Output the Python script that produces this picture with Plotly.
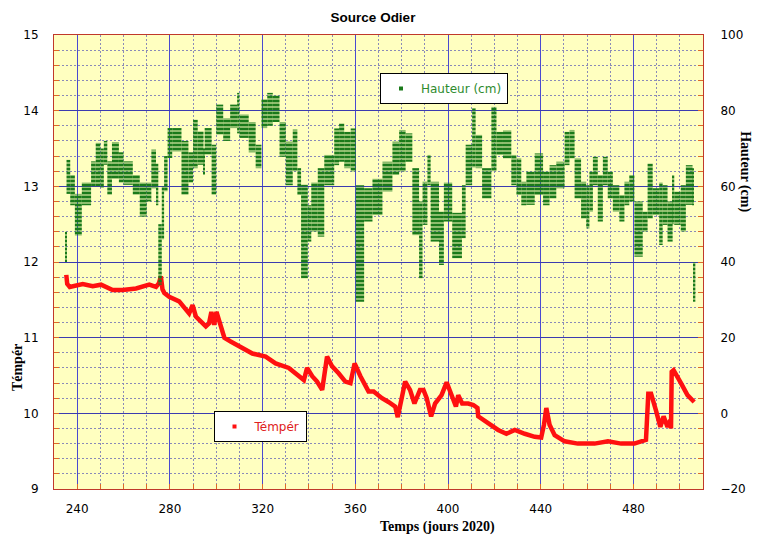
import plotly.graph_objects as go

# ---------------- data ----------------
# Température (°C) : jour 2020 -> valeur
temp_jour = [235.3, 235.7, 236.8, 239.0, 242.4, 246.7, 250.3, 255.3, 259.6, 265.4, 271.1, 274.0,
             275.3, 276.1, 276.8, 277.6, 279.7, 284.0, 288.3, 289.8, 291.2, 295.5, 296.9, 297.9,
             299.1, 300.1, 302.0, 303.2, 303.5, 306.2, 311.3, 315.6, 321.3, 325.6, 331.3, 337.8,
             339.2, 341.4, 343.5, 345.7, 347.8, 350.0, 352.8, 355.7, 357.9, 359.7, 362.2, 365.7,
             367.9, 371.5, 374.3, 377.2, 378.3, 379.3, 381.5, 383.6, 385.5, 387.9, 389.4, 390.8,
             392.7, 394.4, 397.2, 399.4, 401.5, 403.4, 404.4, 406.1, 408.7, 410.9, 412.7, 413.0,
             417.3, 421.6, 425.2, 428.8, 433.1, 437.4, 440.2, 441.4, 442.4, 443.8, 446.0, 450.3,
             456.0, 463.2, 469.0, 474.7, 480.4, 485.4, 486.4, 487.6, 489.7, 491.6, 493.0, 494.7,
             495.9, 496.2, 496.5, 497.3, 500.5, 503.3, 506.2]
temp_val = [11.83, 11.71, 11.67, 11.68, 11.71, 11.68, 11.70, 11.63, 11.63, 11.65, 11.70, 11.67,
            11.72, 11.81, 11.64, 11.59, 11.54, 11.48, 11.32, 11.43, 11.28, 11.15, 11.19, 11.34,
            11.17, 11.34, 11.15, 11.08, 11.00, 10.95, 10.86, 10.79, 10.75, 10.66, 10.60, 10.44,
            10.60, 10.49, 10.42, 10.31, 10.75, 10.62, 10.53, 10.42, 10.40, 10.66, 10.49, 10.29,
            10.29, 10.20, 10.15, 10.09, 9.95, 10.11, 10.42, 10.31, 10.13, 10.31, 10.31, 10.20,
            9.96, 10.13, 10.24, 10.41, 10.26, 10.09, 10.24, 10.13, 10.13, 10.11, 10.07, 9.96,
            9.87, 9.78, 9.73, 9.78, 9.73, 9.69, 9.68, 9.85, 10.07, 9.85, 9.71, 9.63,
            9.60, 9.60, 9.63, 9.60, 9.60, 9.65, 10.26, 10.26, 10.04, 9.82, 9.96, 9.82,
            9.91, 9.80, 10.55, 10.57, 10.40, 10.24, 10.15]

# Hauteur (cm) : intervalles de jours avec valeurs min / max relevées
haut_debut = [234.8, 235.4, 237.0, 239.0, 242.0, 246.0, 248.0, 250.0, 251.5, 253.0, 255.0, 258.0,
              260.0, 264.0, 267.0, 270.0, 272.0, 274.0, 275.0, 276.5, 277.5, 279.0, 281.0, 285.0,
              288.0, 290.0, 292.0, 294.5, 295.0, 298.0, 300.0, 303.0, 306.0, 309.0, 310.0, 314.0,
              317.0, 319.5, 322.0, 324.4, 327.3, 330.0, 333.0, 335.0, 336.6, 339.5, 341.0, 343.8,
              346.6, 350.9, 353.0, 355.2, 358.0, 360.2, 363.8, 367.4, 371.7, 376.0, 378.9, 381.7,
              384.6, 387.5, 389.0, 391.1, 392.5, 396.1, 398.2, 401.8, 406.0, 407.6, 410.4, 411.9,
              414.7, 418.7, 420.9, 423.7, 427.3, 429.5, 431.6, 433.8, 437.4, 441.0, 443.8, 446.7,
              450.3, 452.4, 454.6, 457.4, 459.6, 461.0, 462.5, 464.6, 466.8, 468.9, 471.1, 473.9,
              476.1, 478.2, 480.4, 484.0, 486.1, 488.3, 491.1, 492.6, 494.7, 496.9, 497.6, 500.4,
              502.6, 505.5, 506.0]
haut_fin = [235.4, 237.0, 239.0, 242.0, 246.0, 248.0, 250.0, 251.5, 253.0, 255.0, 258.0, 260.0,
            264.0, 267.0, 270.0, 272.0, 274.0, 275.0, 276.5, 277.5, 279.0, 281.0, 285.0, 288.0,
            290.0, 292.0, 294.5, 295.0, 298.0, 300.0, 303.0, 306.0, 309.0, 310.0, 314.0, 317.0,
            319.5, 322.0, 324.4, 327.3, 330.0, 333.0, 335.0, 336.6, 339.5, 341.0, 343.8, 346.6,
            350.9, 353.0, 355.2, 358.0, 360.2, 363.8, 367.4, 371.7, 376.0, 378.9, 381.7, 384.6,
            387.5, 389.0, 391.1, 392.5, 396.1, 398.2, 401.8, 406.0, 407.6, 410.4, 411.9, 414.7,
            418.7, 420.9, 423.7, 427.3, 429.5, 431.6, 433.8, 437.4, 441.0, 443.8, 446.7, 450.3,
            452.4, 454.6, 457.4, 459.6, 461.0, 462.5, 464.6, 466.8, 468.9, 471.1, 473.9, 476.1,
            478.2, 480.4, 484.0, 486.1, 488.3, 491.1, 492.6, 494.7, 496.9, 497.6, 500.4, 502.6,
            505.5, 506.0, 506.7]
haut_min = [40, 58, 55, 47, 55, 60, 60, 59.6, 65.7, 57.8, 62, 61,
            60.4, 57.8, 52, 56, 59.5, 55, 34, 46, 58.7, 67.5, 69.2, 57.8,
            61, 64.8, 65.7, 63, 68.4, 57.8, 73.7, 72, 75.4, 74, 72.8, 69,
            64.8, 75.4, 76, 77, 67.8, 60.3, 64, 57.7, 35.7, 45.4, 48, 46.7,
            60.3, 65.6, 66.5, 64.8, 63.9, 29.5, 50.7, 52.4, 58.6, 63, 63.9, 66.5,
            47.1, 35.7, 49.8, 60.3, 45.4, 39.2, 50.7, 41, 46.3, 60.3, 65, 64.8,
            56.8, 64, 68.3, 67.4, 60.3, 57.7, 55, 55.1, 57.7, 55, 56.8, 59.5,
            65.6, 67.4, 56.8, 51.5, 48.9, 53.3, 60.3, 50.7, 60.3, 56.8, 53.3, 50.7,
            55, 56, 41.4, 48, 51.5, 52.4, 44.5, 49.8, 45.4, 50, 49.8, 48,
            55.1, 55, 29.5]
haut_max = [48, 67, 63, 58, 61, 66.6, 71.5, 70, 72, 66.6, 71.7, 69,
            66.6, 63, 61, 61, 69.7, 66, 50, 60, 68, 75.4, 75.4, 72,
            69, 77.6, 74.5, 70, 75.4, 71, 81.6, 78, 81.6, 84.7, 79, 77,
            71, 83, 84.7, 84, 77, 71.8, 75, 64.8, 60.4, 55, 61, 64.8,
            68.3, 75.3, 76.6, 74.4, 75.3, 60.3, 59.5, 62, 66.5, 71.8, 74.9, 74,
            64.8, 56, 61.2, 68.3, 61.2, 53.3, 61, 53, 60.3, 71, 80.6, 73.6,
            64.8, 81, 74.4, 74.8, 68.3, 67.4, 61.2, 63.9, 68.7, 63.9, 65.6, 66.5,
            74.4, 74.9, 67.4, 61.2, 60.3, 63.9, 67.8, 63, 67.8, 63.9, 60.3, 57.7,
            61.2, 63, 56, 53.3, 66, 59.5, 61, 60.3, 56, 63, 58.6, 60.3,
            65.6, 64.8, 40]

# ---------------- style ----------------
GREEN = "#1a7a1a"
RED = "#ff1010"
MAJ = "#3b3bb0"
MAJX = "#4a4ad0"
MIN = "#8a8ab8"
TICK = "#dd6a2a"
BORDER = "#c0392b"

fig = go.Figure()

fig.add_trace(go.Scatter(
    x=temp_jour, y=temp_val, mode="lines",
    line=dict(color=RED, width=4.5), showlegend=False, yaxis="y", hoverinfo="x+y"))

fig.add_trace(go.Bar(
    x=haut_debut,
    y=[hi - lo for lo, hi in zip(haut_min, haut_max)],
    base=haut_min,
    width=[f - d for d, f in zip(haut_debut, haut_fin)],
    offset=0,
    marker=dict(color=GREEN, line=dict(width=0),
                pattern=dict(shape="-", fillmode="replace", fgcolor=GREEN,
                             bgcolor="rgba(0,0,0,0)", size=4, solidity=0.75)),
    yaxis="y2", showlegend=False))

# legend entries (small square markers as in the original)
fig.add_trace(go.Scatter(x=[None], y=[None], mode="markers", name="Hauteur (cm)",
                         marker=dict(symbol="square", size=4, color=GREEN),
                         yaxis="y2", legend="legend"))
fig.add_trace(go.Scatter(x=[None], y=[None], mode="markers", name="Témpér",
                         marker=dict(symbol="square", size=4, color=RED),
                         yaxis="y", legend="legend2"))

tickfont = dict(family="DejaVu Sans", size=12, color="black")
W, H = 758, 535
L, R, T, B = 54, 53, 35, 46
pw, ph = W - L - R, H - T - B

def px(x):
    return (x - L) / pw

def py(y):
    return 1 - (y - T) / ph

fig.update_layout(
    width=W, height=H,
    margin=dict(l=L, r=R, t=T, b=B),
    paper_bgcolor="white",
    plot_bgcolor="#ffffc0",
    barmode="overlay",
    title=dict(text="<b>Source Odier</b>", x=373 / W, xanchor="center",
               y=1 - 17 / H, yanchor="middle", xref="container", yref="container",
               font=dict(family="Liberation Sans", size=13.5, color="black")),
    xaxis=dict(range=[230, 510], tick0=240, dtick=40,
               showgrid=True, gridcolor=MAJX, gridwidth=1,
               ticks="inside", ticklen=5, tickcolor=TICK,
               showline=True, linecolor=BORDER, linewidth=1, mirror=True,
               zeroline=False, tickfont=tickfont, ticklabelstandoff=9,
               minor=dict(tick0=240, dtick=10, showgrid=True, gridcolor=MIN,
                          griddash="2px,2px", gridwidth=1,
                          ticks="inside", ticklen=5, tickcolor=TICK)),
    yaxis=dict(range=[9, 15], tick0=9, dtick=1,
               showgrid=True, gridcolor=MAJ, gridwidth=1,
               ticks="inside", ticklen=5, tickcolor=TICK,
               showline=True, linecolor=BORDER, linewidth=1, mirror=True,
               zeroline=False, tickfont=tickfont, ticklabelstandoff=12,
               minor=dict(tick0=9, dtick=0.2, showgrid=True, gridcolor=MIN,
                          griddash="2px,2px", gridwidth=1,
                          ticks="inside", ticklen=5, tickcolor=TICK)),
    yaxis2=dict(range=[-20, 100], tick0=-20, dtick=20, overlaying="y", side="right",
                showgrid=False, zeroline=False,
                ticks="inside", ticklen=5, tickcolor=TICK,
                showline=True, linecolor=BORDER, linewidth=1,
                tickfont=tickfont, ticklabelstandoff=14,
                minor=dict(tick0=-20, dtick=4, showgrid=False,
                           ticks="inside", ticklen=5, tickcolor=TICK)),
    legend=dict(x=px(381), y=py(73), xanchor="left", yanchor="top",
                bgcolor="white", bordercolor="black", borderwidth=1,
                font=dict(family="DejaVu Sans", size=12, color="#2e8b2e")),
    legend2=dict(x=px(214), y=py(411), xanchor="left", yanchor="top",
                 bgcolor="white", bordercolor="black", borderwidth=1,
                 font=dict(family="DejaVu Sans", size=12, color="#e02020")),
    annotations=[
        dict(text="<b>Témpér</b>", x=px(17), y=py(368), xref="paper", yref="paper",
             textangle=-90, showarrow=False, xanchor="center", yanchor="middle",
             font=dict(family="Liberation Serif", size=14, color="black")),
        dict(text="<b>Hauteur (cm)</b>", x=px(747), y=py(172), xref="paper", yref="paper",
             textangle=90, showarrow=False, xanchor="center", yanchor="middle",
             font=dict(family="Liberation Serif", size=14, color="black")),
        dict(text="<b>Temps (jours 2020)</b>", x=px(439), y=py(527), xref="paper", yref="paper",
             showarrow=False, xanchor="center", yanchor="middle",
             font=dict(family="Liberation Serif", size=14, color="black")),
    ],
)

fig.write_html("out.html", config={"displayModeBar": False},
               post_script="document.body.style.margin='0';")
